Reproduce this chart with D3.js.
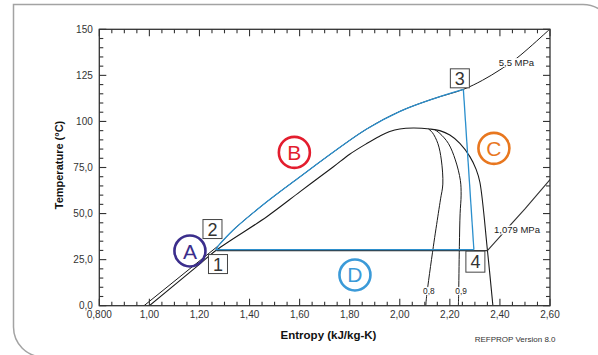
<!DOCTYPE html>
<html><head><meta charset="utf-8">
<script src="https://cdn.jsdelivr.net/npm/d3@7"></script>
<style>
html,body{margin:0;padding:0;background:#fff;}
svg{display:block;font-family:"Liberation Sans",Arial,sans-serif;}
</style></head>
<body>
<svg id="chart" width="598" height="355"></svg>
<script>
// ---- tick values & labels ----
const xTicks = [0.8, 1.0, 1.2, 1.4, 1.6, 1.8, 2.0, 2.2, 2.4, 2.6];
const xTickLabels = ["0,800", "1,00", "1,20", "1,40", "1,60", "1,80", "2,00", "2,20", "2,40", "2,60"];
const yTicks = [0, 25, 50, 75, 100, 125, 150];
const yTickLabels = ["0,0", "25,0", "50,0", "75,0", "100", "125", "150"];

// ---- saturation dome (entropy kJ/kg-K, temperature °C) ----
const domeS = [1.0, 1.189, 1.268, 1.469, 1.602, 1.735, 1.80, 1.868, 1.92, 1.96, 2.0, 2.054, 2.12, 2.16, 2.2, 2.24, 2.28, 2.305, 2.32, 2.35, 2.372];
const domeT = [0, 21.2, 30.2, 48.3, 61.9, 75.4, 82.2, 88.0, 92.0, 94.5, 95.9, 96.4, 95.9, 95.0, 92.6, 88.1, 80.9, 74.0, 67.0, 30.2, 0];

// ---- quality lines ----
const q08S = [2.115, 2.13, 2.152, 2.166, 2.172, 2.163, 2.154, 2.134, 2.107, 2.104];
const q08T = [95.9, 94.0, 88.1, 79.1, 66.0, 58.0, 50.1, 32.0, 4.9, 0];
const q09S = [2.138, 2.16, 2.194, 2.222, 2.242, 2.245, 2.241, 2.238, 2.235, 2.234];
const q09T = [95.7, 93.5, 88.1, 79.1, 68.0, 60.0, 50.1, 32.0, 4.9, 0];

// ---- isobars ----
const p55LiqS = [0.975, 1.275];
const p55LiqT = [-0.4, 32.5];
const p55S = [1.275, 1.335, 1.469, 1.602, 1.735, 1.868, 2.001, 2.134, 2.254, 2.33, 2.40, 2.467, 2.584, 2.61];
const p55T = [32.5, 41.1, 56.4, 70.0, 83.4, 95.9, 105.5, 112.3, 117.4, 122.3, 128.0, 134.3, 148.2, 151.5];
const p1079S = [1.268, 2.35, 2.42, 2.5, 2.6, 2.62];
const p1079T = [29.9, 29.9, 40.5, 52.5, 68.4, 71.5];

// ---- cycle state points 1,2,3,4' ----
const cycleNames = ["1", "2", "3", "4'"];
const cycleS = [1.266, 1.275, 2.254, 2.296];
const cycleT = [30.4, 32.5, 117.4, 30.4];

// ---- annotations ----
const boxLabels = ["1", "2", "3", "4"];
const boxS = [1.274, 1.252, 2.240, 2.302];
const boxT = [22.6, 41.6, 123.4, 23.9];
const circleLabels = ["A", "B", "C", "D"];
const circleS = [1.162, 1.579, 2.376, 1.821];
const circleT = [29.7, 83.2, 85.4, 16.7];
const circleColors = ["#3b2e8c", "#e31d2e", "#e8771f", "#3b9ad8"];
const isobarLabels = ["5,5 MPa", "1,079 MPa"];
const isobarLabelS = [2.466, 2.468];
const isobarLabelT = [130.0, 39.2];
const qualityLabels = ["0,8", "0,9"];
const qualityLabelS = [2.116, 2.245];
const qualityLabelT = [6.3, 6.3];

const svg = d3.select("#chart");
const x = d3.scaleLinear().domain([0.8, 2.6]).range([99.3, 550]);
const y = d3.scaleLinear().domain([0, 150]).range([305.7, 29.3]);

// outer frame
svg.append("path")
  .attr("d", "M 43.5,357 A 30,30 0 0 1 13.5,327 L 13.5,4.5 L 583,4.5 A 30,30 0 0 1 613,34.5")
  .attr("fill", "none").attr("stroke", "#a3a3a3").attr("stroke-width", 1.5);

svg.append("defs").append("clipPath").attr("id", "plotclip")
  .append("rect").attr("x", x(0.8)).attr("y", y(150))
  .attr("width", x(2.6) - x(0.8)).attr("height", y(0) - y(150));

const zip = (a, b) => a.map((v, i) => [v, b[i]]);
const smooth = d3.line().x(d => x(d[0])).y(d => y(d[1])).curve(d3.curveCatmullRom.alpha(0.5));
const straight = d3.line().x(d => x(d[0])).y(d => y(d[1]));

const g = svg.append("g").attr("clip-path", "url(#plotclip)");
const blk = "#1a1a1a";
function drawLine(pts, gen, color, w) {
  g.append("path").attr("d", gen(pts)).attr("fill", "none")
    .attr("stroke", color).attr("stroke-width", w).attr("stroke-linejoin", "round");
}
drawLine(zip(domeS, domeT), smooth, blk, 1.1);
drawLine(zip(q08S, q08T), smooth, blk, 1.0);
drawLine(zip(q09S, q09T), smooth, blk, 1.0);
drawLine(zip(p55LiqS, p55LiqT), straight, blk, 1.0);
drawLine(zip(p55S, p55T), smooth, blk, 1.0);
drawLine(zip(p1079S, p1079T), straight, "#333", 1.1);

// cycle (blue)
const blue = "#2b8fcd";
const c = zip(cycleS, cycleT);
drawLine([c[3], c[0], c[1]], straight, blue, 1.3);
const upTo3 = zip(p55S, p55T).filter(d => d[0] <= cycleS[2] + 1e-9);
drawLine(upTo3, smooth, blue, 1.3);
drawLine([c[2], c[3]], straight, blue, 1.3);

// axes frame & ticks
const ax = svg.append("g");
const axColor = "#333";
ax.append("rect").attr("x", x(0.8)).attr("y", y(150))
  .attr("width", x(2.6) - x(0.8)).attr("height", y(0) - y(150))
  .attr("fill", "none").attr("stroke", axColor).attr("stroke-width", 1.3);
const xMinor = d3.range(0.8, 2.6001, 0.05);
const yMinor = d3.range(0, 150.001, 5);
const majL = 7, minL = 4;
xMinor.forEach(v => {
  const isMaj = xTicks.some(t => Math.abs(t - v) < 1e-6);
  const L = isMaj ? majL : minL;
  ax.append("line").attr("x1", x(v)).attr("x2", x(v)).attr("y1", y(0)).attr("y2", y(0) - L)
    .attr("stroke", axColor).attr("stroke-width", 1.1);
  ax.append("line").attr("x1", x(v)).attr("x2", x(v)).attr("y1", y(150)).attr("y2", y(150) + L)
    .attr("stroke", axColor).attr("stroke-width", 1.1);
});
yMinor.forEach(v => {
  const isMaj = yTicks.some(t => Math.abs(t - v) < 1e-6);
  const L = isMaj ? majL : minL;
  ax.append("line").attr("y1", y(v)).attr("y2", y(v)).attr("x1", x(0.8)).attr("x2", x(0.8) + L)
    .attr("stroke", axColor).attr("stroke-width", 1.1);
  ax.append("line").attr("y1", y(v)).attr("y2", y(v)).attr("x1", x(2.6)).attr("x2", x(2.6) - L)
    .attr("stroke", axColor).attr("stroke-width", 1.1);
});
xTicks.forEach((v, i) => {
  ax.append("text").attr("x", x(v)).attr("y", y(0) + 12).attr("text-anchor", "middle")
    .attr("font-size", 10).attr("fill", "#333").text(xTickLabels[i]);
});
yTicks.forEach((v, i) => {
  ax.append("text").attr("x", x(0.8) - 6.5).attr("y", y(v)).attr("dy", "0.35em").attr("text-anchor", "end")
    .attr("font-size", 10).attr("fill", "#333").text(yTickLabels[i]);
});
svg.append("text").attr("transform", "translate(63,165) rotate(-90)").attr("text-anchor", "middle")
  .attr("font-size", 11).attr("font-weight", "bold").attr("fill", "#111").text("Temperature (°C)");
svg.append("text").attr("x", 328.5).attr("y", 339).attr("text-anchor", "middle")
  .attr("font-size", 11.5).attr("font-weight", "bold").attr("fill", "#111").text("Entropy (kJ/kg-K)");
svg.append("text").attr("x", 555.5).attr("y", 341.5).attr("text-anchor", "end")
  .attr("font-size", 8).attr("fill", "#333").text("REFPROP Version 8.0");

// labels with white background (gaps in lines)
function bgLabel(txt, px, py, size) {
  const t = svg.append("text").attr("x", px).attr("y", py).attr("text-anchor", "middle")
    .attr("font-size", size).attr("fill", "#222").text(txt);
  const bb = t.node().getBBox();
  svg.insert("rect", () => t.node()).attr("x", bb.x - 1).attr("y", bb.y + 1)
    .attr("width", bb.width + 2).attr("height", bb.height - 2).attr("fill", "#fff");
}
isobarLabels.forEach((l, i) => bgLabel(l, x(isobarLabelS[i]), y(isobarLabelT[i]), 9.5));
qualityLabels.forEach((l, i) => bgLabel(l, x(qualityLabelS[i]), y(qualityLabelT[i]), 8.3));

// boxed state numbers
boxLabels.forEach((l, i) => {
  const cx = x(boxS[i]), cy = y(boxT[i]);
  const h = l === "4" ? 21 : 19;
  svg.append("rect").attr("x", cx - 9.5).attr("y", cy - h / 2).attr("width", 19).attr("height", h)
    .attr("fill", "#fff").attr("stroke", "#444").attr("stroke-width", 1);
  svg.append("text").attr("x", cx).attr("y", cy).attr("dy", "0.36em").attr("text-anchor", "middle")
    .attr("font-size", 18).attr("fill", "#333").text(l);
});

// circled letters
circleLabels.forEach((l, i) => {
  const cx = x(circleS[i]), cy = y(circleT[i]);
  svg.append("circle").attr("cx", cx).attr("cy", cy).attr("r", 15.5)
    .attr("fill", "none").attr("stroke", circleColors[i]).attr("stroke-width", 2.6);
  svg.append("text").attr("x", cx).attr("y", cy).attr("dy", "0.36em").attr("text-anchor", "middle")
    .attr("font-size", 21).attr("fill", circleColors[i]).text(l);
});
</script>
</body></html>
